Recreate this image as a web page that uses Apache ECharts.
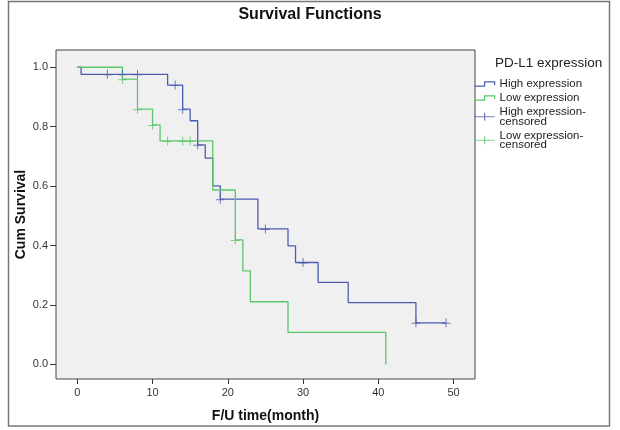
<!DOCTYPE html>
<html>
<head>
<meta charset="utf-8">
<script src="https://cdn.jsdelivr.net/npm/echarts@6/dist/echarts.min.js"></script>
<style>
html,body{margin:0;padding:0;background:#fff;}
#chart{width:620px;height:430px;}
</style>
</head>
<body>
<div id="chart"></div>
<script>
// Kaplan-Meier step data (time in months, cumulative survival)
const highTimes = [0, 0.5, 12, 14, 15, 16, 17, 18, 19, 24, 28, 29, 32, 36, 45, 49];
const highSurv  = [1.0, 0.976, 0.940, 0.859, 0.820, 0.739, 0.694, 0.601, 0.556, 0.456, 0.399, 0.343, 0.276, 0.208, 0.140, 0.140];
const lowTimes  = [0, 6, 8, 10, 11, 18, 21, 22, 23, 28, 41];
const lowSurv   = [1.0, 0.960, 0.859, 0.806, 0.752, 0.587, 0.419, 0.315, 0.211, 0.108, 0.0];
// censored observations
const highCensT = [4, 6, 8, 13, 14, 16, 19, 25, 30, 45, 49];
const highCensS = [0.976, 0.976, 0.976, 0.940, 0.859, 0.739, 0.556, 0.456, 0.343, 0.140, 0.140];
const lowCensT  = [6, 8, 10, 12, 14, 15, 21];
const lowCensS  = [0.960, 0.859, 0.806, 0.752, 0.752, 0.752, 0.419];
// axis ticks
const xTicks = [0, 10, 20, 30, 40, 50];
const yTicks = [0, 0.2, 0.4, 0.6, 0.8, 1.0];
const seriesNames = ['High expression', 'Low expression', 'High expression-censored', 'Low expression-censored'];

const BLUE = '#4b5cb0', GREEN = '#5cc56a';
const FONT = 'Liberation Sans, Arial, sans-serif';
const zip = (a, b) => a.map((v, i) => [v, b[i]]);
const plus = 'path://M0,4.5h9v1h-9zM4,0h1v9h-1z';
const stepIcon = 'path://M0,7L9,7L9,3L18,3L18,6';
const censIcon = 'path://M0,5L20,5M10,1L10,9';

const chart = echarts.init(document.getElementById('chart'), null, {renderer: 'canvas'});
chart.setOption({
  animation: false,
  backgroundColor: '#ffffff',
  title: [
    {text: 'Survival Functions', left: 'center', top: 7, padding: 0,
     textStyle: {fontFamily: FONT, fontSize: 16, fontWeight: 'bold', color: '#111'}},
    {text: 'PD-L1 expression', left: 495, top: 56, padding: 0,
     textStyle: {fontFamily: FONT, fontSize: 13.5, fontWeight: 'normal', color: '#222'}}
  ],
  graphic: [
    {type: 'rect', shape: {x: 8.5, y: 1.5, width: 601, height: 424.5}, silent: true, z: -10,
     style: {fill: 'none', stroke: '#777', lineWidth: 1.5}}
  ],
  legend: {
    orient: 'vertical', left: 474, top: 78, padding: 0,
    itemWidth: 20, itemHeight: 10, itemGap: 2,
    textStyle: {fontFamily: FONT, fontSize: 11.5, color: '#222', lineHeight: 9.5},
    formatter: n => n.replace('-censored', '-\ncensored'),
    data: [
      {name: seriesNames[0], icon: stepIcon, itemStyle: {color: 'rgba(0,0,0,0)', borderColor: BLUE, borderWidth: 1.2}},
      {name: seriesNames[1], icon: stepIcon, itemStyle: {color: 'rgba(0,0,0,0)', borderColor: GREEN, borderWidth: 1.2}},
      {name: seriesNames[2], icon: censIcon, itemStyle: {color: 'rgba(0,0,0,0)', borderColor: BLUE, borderWidth: 1.2}},
      {name: seriesNames[3], icon: censIcon, itemStyle: {color: 'rgba(0,0,0,0)', borderColor: GREEN, borderWidth: 1.2}}
    ]
  },
  grid: {left: 56, top: 50, width: 419, height: 329, show: true,
         backgroundColor: '#f0f0f0', borderColor: '#444', borderWidth: 1, containLabel: false},
  xAxis: {
    type: 'value', min: -2.83, max: 52.85,
    name: 'F/U time(month)', nameLocation: 'middle', nameGap: 30, nameMoveOverlap: false,
    nameTextStyle: {fontFamily: FONT, fontSize: 14, fontWeight: 'bold', color: '#111'},
    axisLine: {show: false, onZero: false},
    splitLine: {show: false},
    axisTick: {show: true, length: 5, customValues: xTicks, lineStyle: {color: '#333'}},
    axisLabel: {customValues: xTicks, margin: 8, fontFamily: FONT, fontSize: 11, color: '#333'}
  },
  yAxis: {
    type: 'value', min: -0.049, max: 1.058,
    name: 'Cum Survival', nameLocation: 'middle', nameGap: 28, nameMoveOverlap: false,
    nameTextStyle: {fontFamily: FONT, fontSize: 14, fontWeight: 'bold', color: '#111'},
    axisLine: {show: false, onZero: false},
    splitLine: {show: false},
    axisTick: {show: true, length: 6, customValues: yTicks, lineStyle: {color: '#333'}},
    axisLabel: {customValues: yTicks, margin: 8, formatter: v => v.toFixed(1),
                fontFamily: FONT, fontSize: 11, color: '#333'}
  },
  series: [
    {name: seriesNames[0], type: 'line', step: 'end', data: zip(highTimes, highSurv),
     showSymbol: false, symbol: 'none', lineStyle: {color: BLUE, width: 1.3}, itemStyle: {color: BLUE}, z: 2},
    {name: seriesNames[1], type: 'line', step: 'end', data: zip(lowTimes, lowSurv),
     showSymbol: false, symbol: 'none', lineStyle: {color: GREEN, width: 1.3}, itemStyle: {color: GREEN}, z: 3},
    {name: seriesNames[2], type: 'scatter', data: zip(highCensT, highCensS),
     symbol: plus, symbolSize: [9, 9], itemStyle: {color: BLUE}, z: 4},
    {name: seriesNames[3], type: 'scatter', data: zip(lowCensT, lowCensS),
     symbol: plus, symbolSize: [9, 9], itemStyle: {color: GREEN}, z: 5}
  ]
});
</script>
</body>
</html>
